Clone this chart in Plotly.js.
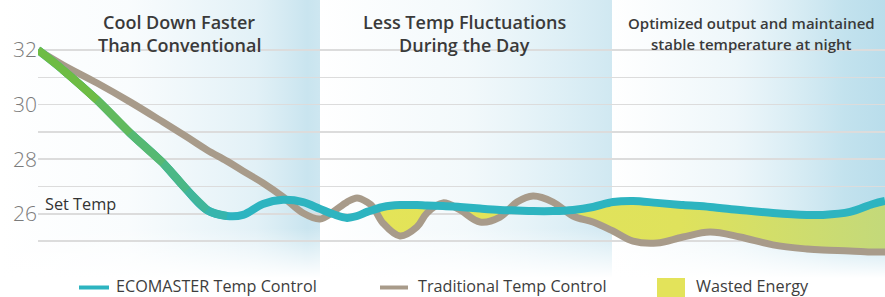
<!DOCTYPE html>
<html><head><meta charset="utf-8">
<script src="https://cdn.plot.ly/plotly-3.0.1.min.js"></script>
<style>html,body{margin:0;padding:0;background:#fff}#chart{width:885px;height:297px}</style>
</head><body><div id="chart"></div>
<script>
// ---- data (x = position along the day, y = temperature °C) ----
const timePos = [38, 63, 97, 130, 163, 187, 207, 227, 243, 263, 283, 303, 320, 333, 347, 357, 367, 373, 383, 400, 417, 427, 443, 460, 480, 500, 517, 533, 553, 573, 593, 613, 633, 657, 683, 710, 740, 773, 807, 823, 850, 873, 885];
const ecomaster = [32.00, 31.27, 30.17, 28.96, 27.86, 26.87, 26.14, 25.92, 25.96, 26.36, 26.51, 26.43, 26.18, 25.99, 25.85, 25.92, 26.07, 26.14, 26.25, 26.32, 26.32, 26.30, 26.29, 26.25, 26.19, 26.14, 26.12, 26.10, 26.10, 26.14, 26.25, 26.43, 26.47, 26.40, 26.32, 26.25, 26.14, 26.03, 25.96, 25.96, 26.07, 26.36, 26.47];
const traditional = [32.00, 31.45, 30.79, 30.10, 29.36, 28.81, 28.34, 27.93, 27.57, 27.13, 26.62, 26.03, 25.81, 26.07, 26.43, 26.58, 26.43, 26.25, 25.66, 25.19, 25.52, 26.03, 26.40, 26.14, 25.70, 25.88, 26.43, 26.65, 26.43, 25.92, 25.70, 25.37, 25.00, 24.93, 25.15, 25.33, 25.15, 24.86, 24.71, 24.67, 24.64, 24.60, 24.60];
const yTickVals = [25, 26, 27, 28, 29, 30, 31, 32];
const yTickText = ['', '26', '', '28', '', '30', '', '32'];
const setTemp = 26;
const seriesNames = ['ECOMASTER Temp Control', 'Traditional Temp Control', 'Wasted Energy'];
const panelTitles = [['Cool Down Faster', 'Than Conventional'], ['Less Temp Fluctuations', 'During the Day'], ['Optimized output and maintained', 'stable temperature at night']];
const panelEdges = [0, 320, 612, 885];
const wastedFrom = 373;

// ---- layout geometry (pixels) ----
const W = 885, H = 297, ML = 38, MB = 27;
const PW = W - ML, PH = H - MB;
const px = x => (x - ML) / PW;          // container pixel -> paper x
const py = y => (PH - y) / PH;          // container pixel -> paper y
const titleX = [179, 464, 751];
const titleY = [[22, 45], [22, 45], [23.5, 44]];
const titleSize = [18, 18, 15];
const legendLineY = 287.5, legendTextY = 286;
const legendItems = [{x0: 79, x1: 109, tx: 115}, {x0: 380, x1: 408, tx: 417}, {x0: 657, x1: 685, tx: 695}];

// ---- styles ----
const TEAL = '#2db4c0', TAUPE = '#a89b8a', YELLOW = '#e3e35a', GREEN = [110, 188, 68];
const FONT = 'Open Sans, Lato, sans-serif';

function makeBackground() {
  const c = document.createElement('canvas'); c.width = W; c.height = H;
  const g = c.getContext('2d');
  g.fillStyle = '#ffffff'; g.fillRect(0, 0, W, H);
  const specs = [
    [[0, 'rgba(214,235,243,0)'], [0.4, 'rgba(214,235,243,0.15)'], [0.8, 'rgba(206,231,241,0.6)'], [0.96, 'rgba(198,227,238,0.95)'], [1, 'rgba(200,228,239,0.9)']],
    [[0, 'rgba(214,235,243,0)'], [0.5, 'rgba(214,235,243,0.3)'], [0.85, 'rgba(205,231,241,0.7)'], [1, 'rgba(200,228,239,0.85)']],
    [[0, 'rgba(210,233,242,0)'], [0.45, 'rgba(205,231,241,0.35)'], [0.85, 'rgba(188,223,236,0.9)'], [1, 'rgba(185,221,235,1)']]
  ];
  specs.forEach((stops, i) => {
    const x0 = panelEdges[i], x1 = panelEdges[i + 1];
    const lg = g.createLinearGradient(x0, 0, x1, 0);
    stops.forEach(s => lg.addColorStop(s[0], s[1]));
    g.fillStyle = lg; g.fillRect(x0, 0, x1 - x0, H);
  });
  const vg = g.createLinearGradient(0, 228, 0, 278);
  vg.addColorStop(0, 'rgba(255,255,255,0)'); vg.addColorStop(1, 'rgba(255,255,255,1)');
  g.fillStyle = vg; g.fillRect(0, 228, W, H - 228);
  return c.toDataURL('image/png');
}

const traces = [];
// wasted energy area: between ECOMASTER and the lower of the two curves
const wi = timePos.findIndex(x => x >= wastedFrom);
const wx = timePos.slice(wi);
const wEco = ecomaster.slice(wi);
const wLow = wEco.map((v, k) => Math.min(v, traditional[wi + k]));
traces.push({x: wx, y: wEco, type: 'scatter', mode: 'lines', line: {width: 0, shape: 'spline'}, showlegend: false, hoverinfo: 'skip'});
traces.push({x: wx, y: wLow, type: 'scatter', mode: 'lines', name: seriesNames[2], line: {width: 0, shape: 'spline'}, fill: 'tonexty', fillcolor: YELLOW,
  fillgradient: {type: 'horizontal', colorscale: [[0, '#e4e458'], [0.6, '#dfe25c'], [1, '#c3d97a']]}, showlegend: false, hoverinfo: 'skip'});
// traditional line
traces.push({x: timePos, y: traditional, type: 'scatter', mode: 'lines', name: seriesNames[1], line: {color: TAUPE, width: 7, shape: 'spline'}, cliponaxis: false, showlegend: false});
// ecomaster line
traces.push({x: timePos, y: ecomaster, type: 'scatter', mode: 'lines', name: seriesNames[0], line: {color: TEAL, width: 8, shape: 'spline'}, cliponaxis: false, showlegend: false});
// green-to-teal start of the ecomaster line
const tealRGB = [45, 180, 192];
const nSeg = 6;
for (let i = nSeg - 1; i >= 0; i--) {
  const t = i / nSeg;
  const col = GREEN.map((c, k) => Math.round(c + (tealRGB[k] - c) * Math.pow(t, 0.9)));
  traces.push({x: timePos.slice(i, i + 3), y: ecomaster.slice(i, i + 3), type: 'scatter', mode: 'lines',
    line: {color: 'rgb(' + col.join(',') + ')', width: 8, shape: 'spline'}, cliponaxis: false, showlegend: false, hoverinfo: 'skip'});
}

const annotations = [];
panelTitles.forEach((lines, i) => lines.forEach((t, j) => annotations.push({
  x: px(titleX[i]), y: py(titleY[i][j]), xref: 'paper', yref: 'paper', text: t, showarrow: false, xanchor: 'center', yanchor: 'middle',
  borderpad: 0, font: {family: FONT, size: titleSize[i], color: '#3a3a3a', weight: 600}
})));
annotations.push({x: px(44), y: py(204), xref: 'paper', yref: 'paper', text: 'Set Temp', showarrow: false, xanchor: 'left', yanchor: 'middle',
  borderpad: 0, font: {family: FONT, size: 16.3, color: '#333'}});
// legend texts
seriesNames.forEach((n, i) => annotations.push({x: px(legendItems[i].tx), y: py(legendTextY), xref: 'paper', yref: 'paper', text: n, showarrow: false,
  xanchor: 'left', yanchor: 'middle', borderpad: 0, font: {family: FONT, size: 16.2, color: '#3d3d3d'}}));

const shapes = [
  {type: 'line', xref: 'paper', yref: 'y', x0: 0, x1: 1, y0: setTemp, y1: setTemp, line: {color: '#f2c6c8', width: 1.5}, layer: 'between'},
  {type: 'line', xref: 'paper', yref: 'paper', x0: px(legendItems[0].x0), x1: px(legendItems[0].x1), y0: py(legendLineY), y1: py(legendLineY), line: {color: TEAL, width: 4}},
  {type: 'line', xref: 'paper', yref: 'paper', x0: px(legendItems[1].x0), x1: px(legendItems[1].x1), y0: py(legendLineY), y1: py(legendLineY), line: {color: TAUPE, width: 4}},
  {type: 'rect', xref: 'paper', yref: 'paper', x0: px(legendItems[2].x0), x1: px(legendItems[2].x1), y0: py(278), y1: py(297), fillcolor: YELLOW, line: {width: 0}}
];

const layout = {
  width: W, height: H,
  margin: {l: ML, r: 0, t: 0, b: MB},
  paper_bgcolor: '#ffffff', plot_bgcolor: 'rgba(0,0,0,0)',
  showlegend: false,
  xaxis: {range: [38, 885], visible: false, fixedrange: true},
  yaxis: {range: [23.941, 33.832], tickvals: yTickVals, ticktext: yTickText, showgrid: true, gridcolor: '#dcdcdc', gridwidth: 1.5,
    zeroline: false, showline: false, ticks: '', tickfont: {family: FONT, size: 21, color: '#7b7b7b', weight: 300}, fixedrange: true},
  shapes: shapes,
  images: [{source: makeBackground(), xref: 'paper', yref: 'paper', x: -ML / PW, y: 1, sizex: W / PW, sizey: H / PH,
    xanchor: 'left', yanchor: 'top', sizing: 'stretch', layer: 'below'}],
  annotations: annotations,
  hovermode: false
};

Plotly.newPlot('chart', traces, layout, {displayModeBar: false, staticPlot: true});
</script>
</body></html>
